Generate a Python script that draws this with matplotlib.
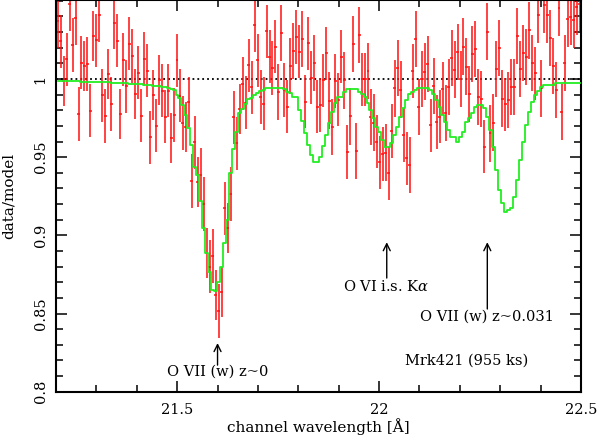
import numpy as np
import matplotlib
matplotlib.use('Agg')
import matplotlib.pyplot as plt
from matplotlib.ticker import MultipleLocator, FixedLocator

plt.rcParams['font.family'] = ['DejaVu Serif']
plt.rcParams['mathtext.fontset'] = 'dejavuserif'

# channel grid (RGS bins)
wave_start = 21.204
wave_step = 0.00739

# data/model ratio
ratio = [
    1.037, 1.024, 0.999, 1.0126, 1.048, 1.0217, 1.039, 0.9776, 1.0104, 1.0083,
    1.0096, 0.9797, 1.0275, 1.0248, 1.0407, 0.9896, 0.9763, 1.0034, 0.984, 1.036,
    1.0245, 0.9778, 1.0124, 0.9953, 1.0226, 1.0147, 0.9902, 1.004, 0.9765, 1.0128,
    1.0053, 0.9627, 0.9898, 0.970,
    0.9994, 0.9925, 0.9759, 0.9925, 0.9625, 0.9770, 1.0119, 0.9893, 0.9719, 0.9691,
    0.9851, 0.9348, 0.9595, 0.9343, 0.9388, 0.9200, 0.8885, 0.8800, 0.8868, 0.8621,
    0.8516, 0.8638, 0.9172, 0.9047, 0.9264, 0.9755, 0.9589, 0.9810, 0.9970, 0.9849,
    1.0088, 0.9947, 1.0343, 1.0119, 0.9885, 0.9842, 1.0305,
    1.0143, 1.0070, 1.0207, 0.9917, 1.0296, 0.993, 0.9823, 1.0081, 1.0181, 1.0269,
    1.0175, 1.0254, 0.9855, 1.0228, 1.0009, 1.0102, 0.9823, 0.9834, 0.9991, 1.0164,
    0.9862, 0.9691, 0.9987, 0.9868, 1.0143, 0.9991, 0.9533, 0.9761, 1.0222, 0.9539,
    1.0281, 0.9998, 0.9998, 1.0049, 0.9759,
    0.9721, 0.9599, 0.9467, 0.9520, 0.9529, 0.9397, 0.9667, 0.9940, 1.0070, 0.9932,
    0.9642, 0.9493, 0.9448, 1.0051, 1.0258, 0.9819, 0.9998, 1.0047, 1.0094, 0.9704,
    0.9955, 0.9725, 0.9759, 0.9938, 0.9781, 0.9947, 1.0136, 1.0060, 1.0171, 0.9998,
    1.0207, 1.0079, 0.9904, 1.0160, 1.0192,
    0.9887, 0.9870, 0.9567, 1.0303, 0.9652, 0.9721, 1.0062, 1.0200, 0.9875, 0.9838,
    0.9866, 0.9947, 0.9947, 1.0275, 1.0066, 1.0166, 1.0141, 1.0311, 1.0100, 1.0036,
    1.0407, 0.9940, 1.0473, 1.0409, 1.0260, 1.0081, 0.9930, 1.0452, 0.9791, 1.0100,
    1.0382, 1.0399, 1.0380, 1.0463, 1.048,
]

ratio_err = [
    0.017, 0.017, 0.016, 0.017, 0.017, 0.017, 0.017, 0.017, 0.017, 0.016,
    0.017, 0.017, 0.016, 0.017, 0.017, 0.017, 0.017, 0.016, 0.017, 0.017,
    0.017, 0.016, 0.017, 0.017, 0.017, 0.017, 0.016, 0.017, 0.017, 0.017,
    0.017, 0.017, 0.016, 0.017,
    0.016, 0.017, 0.017, 0.017, 0.016, 0.017, 0.017, 0.017, 0.017, 0.016,
    0.016, 0.017, 0.017, 0.016, 0.017, 0.017, 0.016, 0.017, 0.017, 0.016,
    0.017, 0.016, 0.017, 0.016, 0.017, 0.017, 0.017, 0.016, 0.017, 0.017,
    0.017, 0.017, 0.017, 0.017, 0.017, 0.017, 0.017,
    0.017, 0.017, 0.017, 0.018, 0.018, 0.017, 0.017, 0.018, 0.018, 0.017,
    0.017, 0.018, 0.017, 0.017, 0.017, 0.018, 0.017, 0.017, 0.017, 0.017,
    0.018, 0.018, 0.017, 0.017, 0.017, 0.018, 0.017, 0.018, 0.018, 0.018,
    0.018, 0.017, 0.017, 0.018, 0.018,
    0.018, 0.017, 0.017, 0.017, 0.018, 0.017, 0.017, 0.018, 0.018, 0.018,
    0.017, 0.017, 0.018, 0.017, 0.018, 0.018, 0.018, 0.018, 0.018, 0.017,
    0.018, 0.017, 0.017, 0.017, 0.018, 0.018, 0.018, 0.018, 0.018, 0.018,
    0.018, 0.018, 0.018, 0.018, 0.018,
    0.018, 0.018, 0.017, 0.018, 0.018, 0.018, 0.018, 0.018, 0.018, 0.017,
    0.018, 0.018, 0.018, 0.018, 0.018, 0.018, 0.018, 0.018, 0.018, 0.017,
    0.018, 0.018, 0.018, 0.018, 0.018, 0.018, 0.018, 0.018, 0.018, 0.018,
    0.018, 0.018, 0.018, 0.018, 0.018,
]

# best fit absorption model (relative to continuum)
model = [
    0.9987, 0.9987, 0.9986, 0.9986, 0.9985, 0.9985, 0.9984, 0.9984, 0.9983, 0.9983,
    0.9982, 0.9982, 0.9981, 0.9980, 0.9980, 0.9979, 0.9978, 0.9978, 0.9977, 0.9976,
    0.9975, 0.9974, 0.9973, 0.9972, 0.9971, 0.9970, 0.9968, 0.9967, 0.9965, 0.9963,
    0.9961, 0.9959, 0.9957, 0.9955,
    0.9952, 0.9950, 0.9946, 0.9940, 0.9935, 0.9930, 0.9898, 0.9876, 0.9834, 0.9770,
    0.9685, 0.9578, 0.9439, 0.9386, 0.9220, 0.9050, 0.8890, 0.8768, 0.8650, 0.8644,
    0.8700, 0.8798, 0.8949, 0.9100, 0.9400, 0.9550, 0.9660, 0.9780, 0.9810, 0.9840,
    0.9870, 0.9880, 0.9900, 0.9910, 0.9920, 0.9930, 0.9940,
    0.9942, 0.9942, 0.9942, 0.9942, 0.9942, 0.9934, 0.9919, 0.9913, 0.9887, 0.9887,
    0.9802, 0.9733, 0.9657, 0.9578, 0.9514, 0.9467, 0.9467, 0.9503, 0.9572, 0.9642,
    0.9716, 0.9791, 0.9844, 0.9887, 0.9887, 0.9919, 0.9934, 0.9934, 0.9934, 0.9934,
    0.9919, 0.9903, 0.9887, 0.9844, 0.9802,
    0.9748, 0.9695, 0.9663, 0.9610, 0.9567, 0.9567, 0.9589, 0.9642, 0.9695, 0.9759,
    0.9812, 0.9866, 0.9904, 0.9915, 0.9930, 0.9942, 0.9942, 0.9942, 0.9942, 0.9930,
    0.9904, 0.9866, 0.9823, 0.9770, 0.9727, 0.9674, 0.9627, 0.9627, 0.9599, 0.9627,
    0.9663, 0.9727, 0.9750, 0.9780, 0.9823,
    0.9834, 0.9834, 0.9812, 0.9755, 0.9674, 0.9567, 0.9418, 0.9290, 0.9205, 0.9151,
    0.9162, 0.9173, 0.9247, 0.9354, 0.9482, 0.9599, 0.9706, 0.9791, 0.9855, 0.9898,
    0.9925, 0.9947, 0.9962, 0.9962, 0.9962, 0.9962, 0.9972, 0.9977, 0.9977, 0.9977,
    0.9977, 0.9977, 0.9977, 0.9977, 0.9977,
]

line_labels = ["O VII (w) z~0", r"O VI i.s. K$\alpha$", "O VII (w) z~0.031"]
line_waves = [21.600, 22.019, 22.268]
target = "Mrk421 (955 ks)"

wave = wave_start + wave_step * np.arange(len(ratio))

fig = plt.figure(figsize=(5.98, 4.36), dpi=100)
ax = fig.add_axes([56 / 598, 1 - 391.7 / 436, 525 / 598, 391.2 / 436])

ax.errorbar(wave, ratio, yerr=ratio_err, xerr=wave_step / 2, fmt='none',
            ecolor='#ff1010', elinewidth=1.1, capsize=0, zorder=2)
ax.step(wave, model, where='mid', color='#22ee22', lw=1.3, zorder=3)
ax.axhline(1.0, color='black', ls=(0, (1, 1.7)), lw=1.3, zorder=1)

ax.set_xlim(21.2, 22.5)
ax.set_ylim(0.8, 1.0502)

ax.xaxis.set_major_locator(FixedLocator([21.5, 22.0, 22.5]))
ax.set_xticklabels(["21.5", "22", "22.5"])
ax.xaxis.set_minor_locator(MultipleLocator(0.1))
ax.yaxis.set_major_locator(FixedLocator([0.8, 0.85, 0.9, 0.95, 1.0]))
ax.set_yticklabels(["0.8", "0.85", "0.9", "0.95", "1"])
ax.yaxis.set_minor_locator(MultipleLocator(0.01))

ax.tick_params(which='both', direction='in', top=True, right=True, width=1.1,
               labelsize=10.5)
ax.tick_params(which='major', length=8)
ax.tick_params(which='minor', length=5)
ax.tick_params(axis='x', pad=8)
ax.tick_params(axis='y', pad=6, labelrotation=90)
for lab in ax.get_yticklabels():
    lab.set_va('center')

for sp in ax.spines.values():
    sp.set_linewidth(1.5)

ax.set_xlabel("channel wavelength [Å]", fontsize=11)
ax.xaxis.set_label_coords(0.5, -0.067)
ax.set_ylabel("data/model", fontsize=11)
ax.yaxis.set_label_coords(-0.076, 0.5)

# line identifications
arr = dict(arrowstyle='->,head_length=0.5,head_width=0.25', lw=1.0,
           color='black', shrinkA=0, shrinkB=0)
ax.annotate('', xy=(line_waves[0], 0.8311), xytext=(line_waves[0], 0.817), arrowprops=arr)
ax.text(line_waves[0], 0.8126, line_labels[0], ha='center', va='center', fontsize=10.5)
ax.annotate('', xy=(line_waves[1], 0.8956), xytext=(line_waves[1], 0.8727), arrowprops=arr)
ax.text(line_waves[1] - 0.001, 0.8676, line_labels[1], ha='center', va='center', fontsize=10.5)
ax.annotate('', xy=(line_waves[2], 0.8956), xytext=(line_waves[2], 0.8529), arrowprops=arr)
ax.text(line_waves[2], 0.848, line_labels[2], ha='center', va='center', fontsize=10.5)
ax.text(22.2166, 0.8198, target, ha='center', va='center', fontsize=10.5)

fig.savefig('out.png', dpi=100)
